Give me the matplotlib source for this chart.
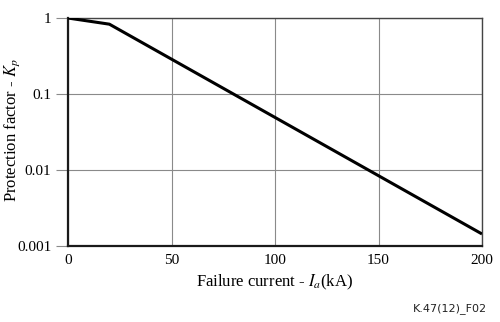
import matplotlib
matplotlib.use("Agg")
import matplotlib.pyplot as plt
from matplotlib.ticker import FixedLocator, FixedFormatter, NullLocator

# curve: flat-ish start, then straight on the log scale
current_ka = [0, 20, 200]
kp = [1.0, 0.83, 0.00144]

x_ticks = [0, 50, 100, 150, 200]
y_ticks = [0.001, 0.01, 0.1, 1]
y_labels = ["0.001", "0.01", "0.1", "1"]

plt.rcParams["font.family"] = ["Liberation Serif", "DejaVu Serif"]
plt.rcParams["mathtext.fontset"] = "stix"

fig = plt.figure(figsize=(5.0, 3.22), dpi=100)
ax = fig.add_axes([0.136, 0.236, 0.828, 0.708])

ax.plot(current_ka, kp, color="black", lw=2.2, solid_capstyle="butt", zorder=3)

ax.set_yscale("log")
ax.set_xlim(0, 200)
ax.set_ylim(0.001, 1)
ax.xaxis.set_major_locator(FixedLocator(x_ticks))
ax.yaxis.set_major_locator(FixedLocator(y_ticks))
ax.yaxis.set_major_formatter(FixedFormatter(y_labels))
ax.yaxis.set_minor_locator(NullLocator())

ax.grid(True, color="#8a8a8a", lw=0.8)
ax.tick_params(axis="both", labelsize=11, color="#8a8a8a", width=0.8)
ax.tick_params(axis="y", length=9, pad=3)
ax.tick_params(axis="x", length=0, pad=6)

for side in ["left", "bottom"]:
    ax.spines[side].set_color("#1a1a1a")
    ax.spines[side].set_linewidth(1.6)
for side in ["top", "right"]:
    ax.spines[side].set_color("#444444")
    ax.spines[side].set_linewidth(1.0)

ax.set_xlabel("Failure current - $I_a$(kA)", fontsize=12, labelpad=4)
ax.set_ylabel("Protection factor - $K_p$", fontsize=12)
ax.yaxis.set_label_coords(-0.111, 0.51)

fig.text(0.975, 0.043, "K.47(12)_F02", fontsize=8, family="DejaVu Sans",
         ha="right", va="center", color="#222222")

fig.savefig("out.png", dpi=100)
